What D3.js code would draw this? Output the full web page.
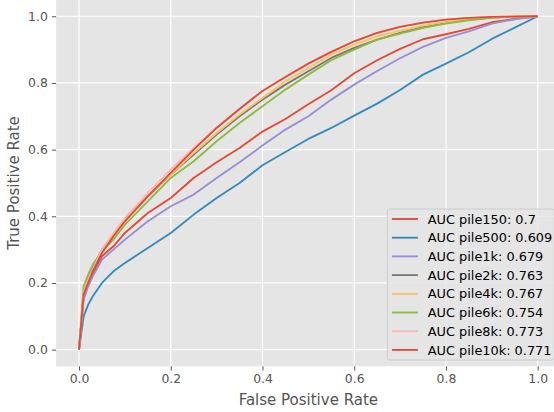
<!DOCTYPE html>
<html>
<head>
<meta charset="utf-8">
<script src="https://cdn.jsdelivr.net/npm/d3@7"></script>
<style>
  body { margin: 0; background: #fff; }
  svg { display: block; font-family: "DejaVu Sans", sans-serif; }
</style>
</head>
<body>
<svg></svg>
<script>
// shared false positive rate grid
const fpr = [0, 0.01, 0.02, 0.03, 0.05, 0.075, 0.1, 0.15, 0.2, 0.25, 0.3, 0.35, 0.4,
    0.45, 0.5, 0.55, 0.6, 0.65, 0.7, 0.75, 0.8, 0.85, 0.9, 0.95, 1.0];

const tprPile150 = [0, 0.16, 0.20, 0.23, 0.28, 0.31, 0.35, 0.41, 0.455, 0.515, 0.562, 0.605, 0.654,
    0.692, 0.736, 0.778, 0.829, 0.868, 0.902, 0.931, 0.946, 0.962, 0.982, 0.992, 1.0];
const tprPile500 = [0, 0.10, 0.135, 0.16, 0.20, 0.235, 0.26, 0.305, 0.35, 0.405, 0.455, 0.50, 0.553,
    0.593, 0.632, 0.665, 0.702, 0.738, 0.779, 0.825, 0.858, 0.892, 0.932, 0.966, 1.0];
const tprPile1k = [0, 0.15, 0.19, 0.22, 0.27, 0.30, 0.33, 0.385, 0.43, 0.465, 0.515, 0.562, 0.612,
    0.66, 0.70, 0.75, 0.795, 0.836, 0.874, 0.908, 0.935, 0.955, 0.978, 0.991, 1.0];
const tprPile2k = [0, 0.17, 0.21, 0.245, 0.30, 0.345, 0.39, 0.46, 0.525, 0.585, 0.645, 0.70, 0.75,
    0.795, 0.835, 0.875, 0.905, 0.93, 0.95, 0.967, 0.98, 0.99, 0.996, 0.999, 1.0];
const tprPile4k = [0, 0.17, 0.21, 0.24, 0.295, 0.345, 0.39, 0.46, 0.525, 0.59, 0.65, 0.705, 0.755,
    0.805, 0.845, 0.885, 0.915, 0.94, 0.957, 0.972, 0.983, 0.992, 0.997, 0.999, 1.0];
const tprPile6k = [0, 0.19, 0.225, 0.255, 0.295, 0.33, 0.375, 0.445, 0.515, 0.565, 0.625, 0.68, 0.73,
    0.78, 0.825, 0.868, 0.90, 0.93, 0.948, 0.965, 0.978, 0.988, 0.995, 0.999, 1.0];
const tprPile8k = [0, 0.17, 0.205, 0.24, 0.30, 0.35, 0.395, 0.47, 0.54, 0.605, 0.667, 0.722, 0.776,
    0.818, 0.858, 0.893, 0.925, 0.95, 0.968, 0.981, 0.99, 0.995, 0.998, 0.999, 1.0];
const tprPile10k = [0, 0.165, 0.20, 0.235, 0.29, 0.34, 0.385, 0.46, 0.53, 0.60, 0.665, 0.722, 0.776,
    0.818, 0.858, 0.893, 0.925, 0.95, 0.968, 0.981, 0.99, 0.995, 0.998, 0.999, 1.0];

const seriesNames = ["pile150", "pile500", "pile1k", "pile2k", "pile4k", "pile6k", "pile8k", "pile10k"];
const aucLabels = ["0.7", "0.609", "0.679", "0.763", "0.767", "0.754", "0.773", "0.771"];
const seriesTpr = [tprPile150, tprPile500, tprPile1k, tprPile2k, tprPile4k, tprPile6k, tprPile8k, tprPile10k];
const colors = ["#E24A33", "#348ABD", "#988ED5", "#777777", "#FBC15E", "#8EBA42", "#FFB5B8", "#E24A33"];

const tickValues = [0, 0.2, 0.4, 0.6, 0.8, 1.0];

const width = 554;
const height = 412;
const svg = d3.select("svg")
    .attr("width", width)
    .attr("height", height);

// axes box (right and top run slightly past the picture edge)
const plot = { left: 56.1, right: 560.6, top: -0.4, bottom: 366.3 };

const x = d3.scaleLinear().domain([-0.05, 1.05]).range([plot.left, plot.right]);
const y = d3.scaleLinear().domain([-0.05, 1.05]).range([plot.bottom, plot.top]);

svg.append("rect")
    .attr("x", plot.left)
    .attr("y", plot.top)
    .attr("width", plot.right - plot.left)
    .attr("height", plot.bottom - plot.top)
    .attr("fill", "#E5E5E5");

svg.append("clipPath").attr("id", "clip")
    .append("rect")
    .attr("x", plot.left)
    .attr("y", plot.top)
    .attr("width", plot.right - plot.left)
    .attr("height", plot.bottom - plot.top);

// grid
const grid = svg.append("g");
tickValues.forEach(t => {
    grid.append("line")
        .attr("x1", x(t)).attr("x2", x(t))
        .attr("y1", plot.top).attr("y2", plot.bottom)
        .attr("stroke", "#fff").attr("stroke-width", 1.2);
    grid.append("line")
        .attr("x1", plot.left).attr("x2", plot.right)
        .attr("y1", y(t)).attr("y2", y(t))
        .attr("stroke", "#fff").attr("stroke-width", 1.2);
});

// axes
const xAxis = svg.append("g")
    .attr("transform", `translate(0,${plot.bottom})`)
    .call(d3.axisBottom(x).tickValues(tickValues).tickFormat(d3.format(".1f"))
        .tickSize(4.3).tickPadding(4));
const yAxis = svg.append("g")
    .attr("transform", `translate(${plot.left},0)`)
    .call(d3.axisLeft(y).tickValues(tickValues).tickFormat(d3.format(".1f"))
        .tickSize(4.3).tickPadding(4));

[xAxis, yAxis].forEach(a => {
    a.select(".domain").remove();
    a.selectAll(".tick line").attr("stroke", "#555555").attr("stroke-width", 1);
    a.selectAll(".tick text")
        .attr("fill", "#555555")
        .style("font-size", "12.4px")
        .style("font-family", "DejaVu Sans");
});

svg.append("text")
    .attr("x", (x(0) + x(1)) / 2)
    .attr("y", 405)
    .attr("text-anchor", "middle")
    .attr("fill", "#555555")
    .style("font-size", "15px")
    .text("False Positive Rate");

svg.append("text")
    .attr("transform", `translate(19,${(y(0) + y(1)) / 2}) rotate(-90)`)
    .attr("text-anchor", "middle")
    .attr("fill", "#555555")
    .style("font-size", "15px")
    .text("True Positive Rate");

// curves
const line = d3.line()
    .x((d, i) => x(fpr[i]))
    .y(d => y(d));

const curves = svg.append("g").attr("clip-path", "url(#clip)");
seriesTpr.forEach((tpr, i) => {
    curves.append("path")
        .attr("d", line(tpr))
        .attr("fill", "none")
        .attr("stroke", colors[i])
        .attr("stroke-width", 1.85)
        .attr("stroke-linejoin", "round");
});

// legend
const legend = { left: 387.3, top: 209, width: 167, height: 151, rowStep: 18.7 };
const lg = svg.append("g");
lg.append("rect")
    .attr("x", legend.left)
    .attr("y", legend.top)
    .attr("width", legend.width)
    .attr("height", legend.height)
    .attr("rx", 2.5)
    .attr("fill", "#E5E5E5")
    .attr("fill-opacity", 0.8)
    .attr("stroke", "#CCCCCC")
    .attr("stroke-width", 1);

seriesNames.forEach((name, i) => {
    const cy = legend.top + 10 + i * legend.rowStep;
    lg.append("line")
        .attr("x1", legend.left + 4.6)
        .attr("x2", legend.left + 30.6)
        .attr("y1", cy).attr("y2", cy)
        .attr("stroke", colors[i])
        .attr("stroke-width", 1.85);
    lg.append("text")
        .attr("x", legend.left + 40.4)
        .attr("y", cy)
        .attr("dy", "0.36em")
        .attr("fill", "#000")
        .style("font-size", "12.9px")
        .text(`AUC ${name}: ${aucLabels[i]}`);
});
</script>
</body>
</html>
